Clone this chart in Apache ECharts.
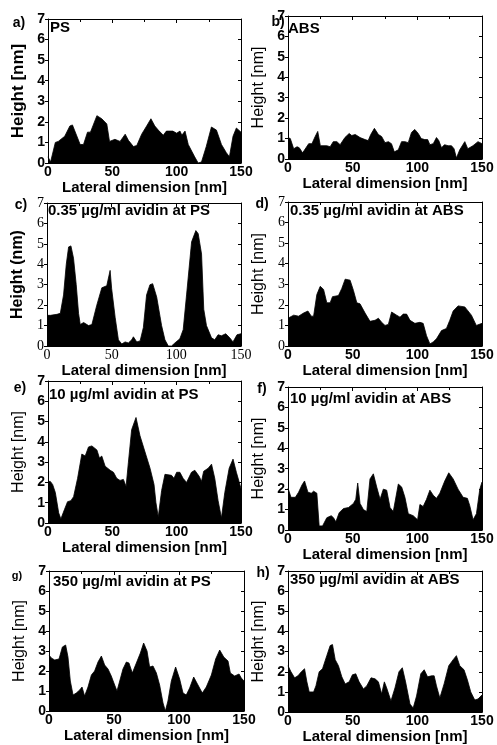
<!DOCTYPE html>
<html><head><meta charset="utf-8">
<script src="https://cdn.jsdelivr.net/npm/echarts@6/dist/echarts.min.js"></script>
<style>html,body{margin:0;padding:0;background:#fff}#c{width:497px;height:745px}</style>
</head><body><div id="c"></div>
<script>
// ---------- DATA ----------
const xTickValues = [0, 50, 100, 150];
const yTickValues = [0, 1, 2, 3, 4, 5, 6, 7];
const panelLetters = ['a)', 'b)', 'c)', 'd)', 'e)', 'f)', 'g)', 'h)'];
const panelTitles = ['PS', 'ABS', '0.35 µg/ml avidin at PS', '0.35 µg/ml avidin at ABS',
  '10 µg/ml avidin at PS', '10 µg/ml avidin at ABS', '350 µg/ml avidin at PS', '350 µg/ml avidin at ABS'];
const yTitles = ['Height [nm]', 'Height [nm]', 'Height (nm)', 'Height [nm]', 'Height [nm]', 'Height [nm]', 'Height [nm]', 'Height [nm]'];
const xTitle = 'Lateral dimension [nm]';

// [lateral nm, height nm]
const profilePS = [[0,0.3],[2,0.05],[5.7,1.0],[8,1.05],[13,1.3],[17,1.8],[19,1.85],[25,0.9],[27.6,0.9],[30.7,1.5],[33,1.5],[38,2.3],[41.8,2.15],[45.7,1.9],[47.8,1.05],[52,1.15],[56,1.05],[60,1.4],[62.5,1.1],[66.4,0.8],[69,0.85],[72.8,1.4],[76.7,1.8],[80,2.15],[83,1.8],[85.7,1.6],[89.6,1.35],[92,1.55],[97,1.55],[100,1.45],[102.6,1.55],[104,1.35],[106.5,1.55],[109,0.9],[114,0.3],[116.7,0.0],[119.3,0.05],[123,0.8],[127,1.75],[130.9,1.6],[134.8,0.9],[138.6,0.5],[141,0.3],[143.8,1.3],[146.4,1.7],[150,1.5]];
const profileABS = [[0,1.05],[1.8,1.0],[4.4,0.5],[7,0.6],[8.7,0.55],[11.3,0.3],[12.8,0.3],[16,0.75],[18.5,0.75],[21,1.1],[23,1.35],[25,0.65],[30,0.65],[32.6,0.6],[35,0.85],[37.8,0.85],[40.3,0.7],[44,1.05],[47.3,1.25],[49.3,1.15],[52,1.2],[55.7,1.05],[59.6,0.95],[62,0.9],[64,1.2],[66.8,1.5],[69.9,1.2],[72.4,1.1],[75,0.8],[77.6,0.85],[80,0.75],[82.2,0.35],[85.3,0.45],[87.8,0.85],[90.4,0.85],[93,0.8],[95.5,1.3],[98,1.45],[100.7,1.25],[103,1.0],[105.8,0.95],[108,0.95],[109.7,0.7],[112.3,0.75],[114.8,1.05],[116.6,0.9],[118.7,0.55],[121,0.7],[123.8,0.65],[126.4,0.65],[128.4,0.5],[130.2,0.05],[132.8,0.45],[136.7,0.85],[139,0.5],[143,0.65],[146.9,0.85],[150,0.75]];
const profile035PS = [[0,1.5],[2.6,1.5],[7.7,1.55],[10.3,1.6],[12.8,2.5],[14.9,4.0],[16.7,4.85],[18.5,4.9],[20.5,4.3],[22.6,3.0],[24.4,1.6],[25.7,1.05],[28.3,1.15],[32.1,1.0],[34.7,1.05],[38.5,2.0],[42.4,2.85],[46.2,2.95],[48.8,3.7],[50,2.8],[52.7,1.4],[55.2,0.3],[57.8,0.1],[60.4,0.2],[62.9,0.15],[65.5,0.3],[66.8,0.45],[69.4,0.2],[72,0.25],[74.5,0.9],[77,2.5],[79.6,3.0],[81.7,3.05],[84.8,2.4],[88.6,1.0],[91.2,0.3],[93.8,0.0],[96.3,0.0],[98.9,0.15],[102.7,0.35],[105.3,0.8],[107.9,2.5],[111.8,5.1],[115.1,5.65],[116.9,5.5],[119.5,4.5],[121.2,1.8],[123.3,1.0],[127.2,0.4],[129.7,0.3],[132.3,0.55],[134.9,0.5],[138.2,0.6],[141.3,0.4],[143.8,0.2],[146.9,0.55],[150,0.6]];
const profile035ABS = [[0,1.35],[4.4,1.5],[8.2,1.45],[12,1.6],[15.4,1.7],[18,1.45],[19.8,1.45],[22.3,2.5],[24.9,2.9],[27.5,2.75],[30,2.1],[32.6,2.1],[34.4,2.4],[39,2.45],[41.6,2.8],[44.2,3.25],[48,3.2],[50.6,2.7],[53.2,2.1],[55.7,2.05],[59.6,1.6],[63.4,1.2],[67.3,1.25],[69.9,1.35],[72.4,1.15],[75,1.0],[77.6,1.05],[80.1,1.65],[84,1.5],[86.6,1.4],[89.1,1.55],[91.7,1.55],[94.3,1.25],[98.1,1.1],[102,1.15],[104.5,1.1],[107.1,0.5],[109.7,0.1],[112.3,0.2],[114.8,0.35],[118.7,0.75],[122.5,0.85],[125.1,1.25],[127.7,1.7],[131.5,1.95],[136.7,1.9],[141.8,1.5],[145.6,1.0],[150,1.1]];
const profile10PS = [[0,2.05],[1.8,2.05],[3.6,1.9],[5.7,1.5],[8.3,0.5],[10,0.2],[12.7,0.65],[15.2,1.05],[17.8,1.1],[19.9,1.3],[23,2.2],[26.3,3.4],[28.9,3.3],[31.5,3.75],[34.1,3.8],[38,3.6],[40,3.2],[41.8,3.3],[44.4,2.8],[48.3,2.6],[50.9,2.5],[53.4,2.2],[56,2.1],[58.6,2.15],[60.7,1.8],[62.5,3.0],[65,4.6],[68.4,5.2],[71.5,4.3],[75.4,3.5],[79.3,2.7],[82.4,1.9],[83.9,1.0],[85.7,0.3],[88.3,1.6],[90.9,2.4],[96,2.35],[97.9,2.2],[100,2.5],[102.5,2.5],[105,2.2],[107.7,2.0],[111.5,2.5],[114.1,2.6],[117.5,2.3],[119.3,2.05],[121,2.55],[124.5,2.7],[127.1,2.9],[129.6,2.2],[132.2,1.1],[134.8,0.25],[137.4,1.5],[140.8,2.7],[143.8,3.15],[146.4,2.5],[150,1.7]];
const profile10ABS = [[0,2.05],[2.3,1.6],[5.7,1.6],[8.2,1.85],[10.8,2.2],[12.8,2.4],[15.4,1.85],[18,1.8],[19.8,1.9],[22.3,1.8],[24.1,0.2],[26.7,0.2],[30,0.6],[33.4,0.7],[35.2,0.6],[37,0.4],[39.6,0.85],[42.9,1.05],[46.8,1.1],[50.6,1.3],[52.4,1.5],[53.9,2.3],[55.7,1.3],[58.3,1.0],[60.9,0.9],[63.4,2.5],[66,2.75],[68.6,2.1],[71.2,1.5],[73.7,2.0],[76.3,1.95],[78.9,1.1],[81.4,0.9],[85.3,2.25],[87.9,2.1],[90.4,1.6],[93,0.8],[96.8,0.7],[100.2,0.5],[102,1.25],[104.5,1.15],[107.1,1.5],[109.7,1.95],[112.3,1.7],[114.8,1.55],[117.4,1.8],[121.2,2.4],[124.3,2.8],[127.7,2.5],[131.5,2.0],[135.4,1.6],[138.7,1.55],[140.5,1.2],[143.1,0.5],[145.7,0.8],[148.3,2.0],[150,2.35]];
const profile350PS = [[0,2.8],[1.8,2.65],[4.4,2.55],[7.7,2.6],[10.3,3.2],[12.8,3.3],[14.6,2.7],[16.4,1.5],[18.5,0.8],[21,0.9],[23.6,1.05],[25.4,1.2],[27.4,0.75],[30,1.2],[32.6,1.8],[35.1,2.0],[37.7,2.45],[40.3,2.75],[42.8,2.3],[45.4,2.1],[47.9,1.75],[50.5,1.3],[52.3,1.0],[54.4,1.5],[56.9,2.1],[59.5,2.45],[61.5,2.4],[64.1,1.9],[67.2,2.4],[70.3,2.9],[72.8,3.4],[75.4,3.0],[77.4,2.2],[80,2.25],[82.6,1.9],[85.1,1.3],[87.7,0.4],[89.5,0.0],[91.5,0.5],[94.1,1.5],[97.4,2.2],[100.5,1.6],[103.1,0.9],[105.6,0.8],[108.2,1.15],[111.3,1.7],[114.6,1.3],[117.9,0.9],[121,1.2],[124.9,1.8],[128.2,2.6],[131.3,3.05],[134.4,2.7],[137.7,2.5],[139.5,1.9],[142.8,1.75],[146.2,1.85],[147.9,1.65],[150,1.5]];
const profile350ABS = [[0,2.3],[2.3,2.0],[5.1,1.7],[7.7,1.8],[10.3,2.0],[12.8,2.15],[14.6,1.5],[16.4,1.0],[19.8,1.0],[21.6,1.3],[24.1,2.0],[26.7,2.15],[30,2.8],[32.6,3.3],[34.4,3.35],[36.5,2.6],[39,2.3],[41.6,1.75],[44.2,1.4],[47.3,1.5],[49.8,1.85],[52.4,1.9],[55,1.5],[58.3,1.15],[60.9,1.3],[64.2,1.7],[67.3,1.65],[69.9,1.5],[72.4,0.9],[74.5,1.5],[76.3,1.2],[79.6,0.55],[82.7,1.2],[85.8,2.0],[88.4,2.2],[90.9,1.5],[94.3,0.4],[96.8,0.2],[99.4,0.8],[102.7,1.9],[105.3,2.1],[107.9,1.75],[111,1.8],[113,1.8],[114.8,1.3],[117.4,0.7],[120.7,1.4],[124.3,2.3],[127.7,2.6],[130.2,2.8],[132.8,2.3],[136.1,2.1],[138.7,1.6],[141.3,1.0],[144.4,0.6],[146.9,0.65],[150,0.85]];
const profiles = [profilePS, profileABS, profile035PS, profile035ABS, profile10PS, profile10ABS, profile350PS, profile350ABS];

// ---------- LAYOUT / STYLE ----------
const SANS = 'Liberation Sans, Arial, sans-serif';
const SERIF = 'Liberation Serif, Times New Roman, serif';
const layout = [
  {left:48, top:19, width:193, height:144, yTitleW:'bold', yTitleS:17, yLab:[SANS,'bold'], xLab:[SANS,'bold'], letter:[19,23,14], title:[50,28]},
  {left:288, top:16, width:194, height:143, yTitleW:'normal', yTitleS:16, yLab:[SANS,'bold'], xLab:[SANS,'bold'], letter:[278,22,14], title:[288,29]},
  {left:47, top:203, width:194, height:143, yTitleW:'bold', yTitleS:16, yLab:[SERIF,'normal'], xLab:[SERIF,'normal'], letter:[21,205,14], title:[48,211]},
  {left:288, top:202, width:194, height:144, yTitleW:'normal', yTitleS:16, yLab:[SERIF,'normal'], xLab:[SANS,'bold'], letter:[262,204,14], title:[290,211]},
  {left:48, top:381, width:193, height:142, yTitleW:'normal', yTitleS:16, yLab:[SANS,'bold'], xLab:[SANS,'bold'], letter:[20,388,14], title:[49,395]},
  {left:288, top:387, width:194, height:143, yTitleW:'normal', yTitleS:16, yLab:[SANS,'bold'], xLab:[SANS,'bold'], letter:[262,389,14], title:[290,399]},
  {left:49, top:571, width:195, height:140, yTitleW:'normal', yTitleS:16, yLab:[SANS,'bold'], xLab:[SANS,'bold'], letter:[17,576,11], title:[53,582]},
  {left:288, top:571, width:194, height:142, yTitleW:'normal', yTitleS:16, yLab:[SANS,'bold'], xLab:[SANS,'bold'], letter:[263,573,14], title:[290,580]}
];

const grids = [], xAxes = [], yAxes = [], series = [], graphics = [];
const black = '#000';
layout.forEach((L, i) => {
  grids.push({left: L.left, top: L.top, width: L.width, height: L.height, containLabel: false});
  xAxes.push({
    gridIndex: i, type: 'value', position: 'bottom', min: xTickValues[0], max: xTickValues[xTickValues.length-1],
    interval: xTickValues[1] - xTickValues[0],
    axisLine: {show: true, onZero: false, lineStyle: {color: black, width: 1}},
    axisTick: {show: true, inside: true, length: 4, lineStyle: {color: black}},
    minorTick: {show: true, splitNumber: 2, length: 3, lineStyle: {color: black}},
    splitLine: {show: false},
    axisLabel: {color: black, fontFamily: L.xLab[0], fontWeight: L.xLab[1], fontSize: 14, margin: 2, showMinLabel: true, showMaxLabel: true},
    name: xTitle, nameLocation: 'middle', nameGap: 13,
    nameTextStyle: {color: black, fontFamily: SANS, fontWeight: 'bold', fontSize: 15}
  });
  xAxes.push({
    gridIndex: i, type: 'value', position: 'top', min: xTickValues[0], max: xTickValues[xTickValues.length-1],
    interval: xTickValues[1] - xTickValues[0],
    axisLine: {show: true, onZero: false, lineStyle: {color: black, width: 1}},
    axisTick: {show: true, inside: true, length: 4, lineStyle: {color: black}},
    minorTick: {show: true, splitNumber: 2, length: 3, lineStyle: {color: black}},
    splitLine: {show: false}, axisLabel: {show: false}
  });
  yAxes.push({
    gridIndex: i, type: 'value', position: 'left', min: yTickValues[0], max: yTickValues[yTickValues.length-1],
    interval: yTickValues[1] - yTickValues[0],
    axisLine: {show: true, onZero: false, lineStyle: {color: black, width: 1}},
    axisTick: {show: true, inside: false, length: 3, lineStyle: {color: black}},
    splitLine: {show: false},
    axisLabel: {color: black, fontFamily: L.yLab[0], fontWeight: L.yLab[1], fontSize: 14, margin: 3},
    name: yTitles[i], nameLocation: 'middle', nameGap: 21,
    nameTextStyle: {color: black, fontFamily: SANS, fontWeight: L.yTitleW, fontSize: L.yTitleS}
  });
  yAxes.push({
    gridIndex: i, type: 'value', position: 'right', min: yTickValues[0], max: yTickValues[yTickValues.length-1],
    interval: yTickValues[1] - yTickValues[0],
    axisLine: {show: true, onZero: false, lineStyle: {color: black, width: 1}},
    axisTick: {show: true, inside: true, length: 3, lineStyle: {color: black}},
    splitLine: {show: false}, axisLabel: {show: false}
  });
  series.push({
    type: 'line', xAxisIndex: 2*i, yAxisIndex: 2*i, data: profiles[i],
    showSymbol: false, symbol: 'none', silent: true,
    lineStyle: {color: black, width: 0.8},
    areaStyle: {color: black, opacity: 1, origin: 'start'}
  });
  graphics.push({
    type: 'text', x: L.letter[0], y: L.letter[1],
    style: {text: panelLetters[i], fill: black, font: 'bold ' + L.letter[2] + 'px ' + SANS, textAlign: 'center', textVerticalAlign: 'middle'}
  });
  graphics.push({
    type: 'text', x: L.title[0], y: L.title[1],
    style: {text: panelTitles[i], fill: black, font: 'bold 15px ' + SANS, textAlign: 'left', textVerticalAlign: 'middle'}
  });
});

const chart = echarts.init(document.getElementById('c'), null, {renderer: 'canvas'});
chart.setOption({
  animation: false,
  backgroundColor: '#fff',
  grid: grids, xAxis: xAxes, yAxis: yAxes, series: series,
  graphic: graphics
});
</script></body></html>
